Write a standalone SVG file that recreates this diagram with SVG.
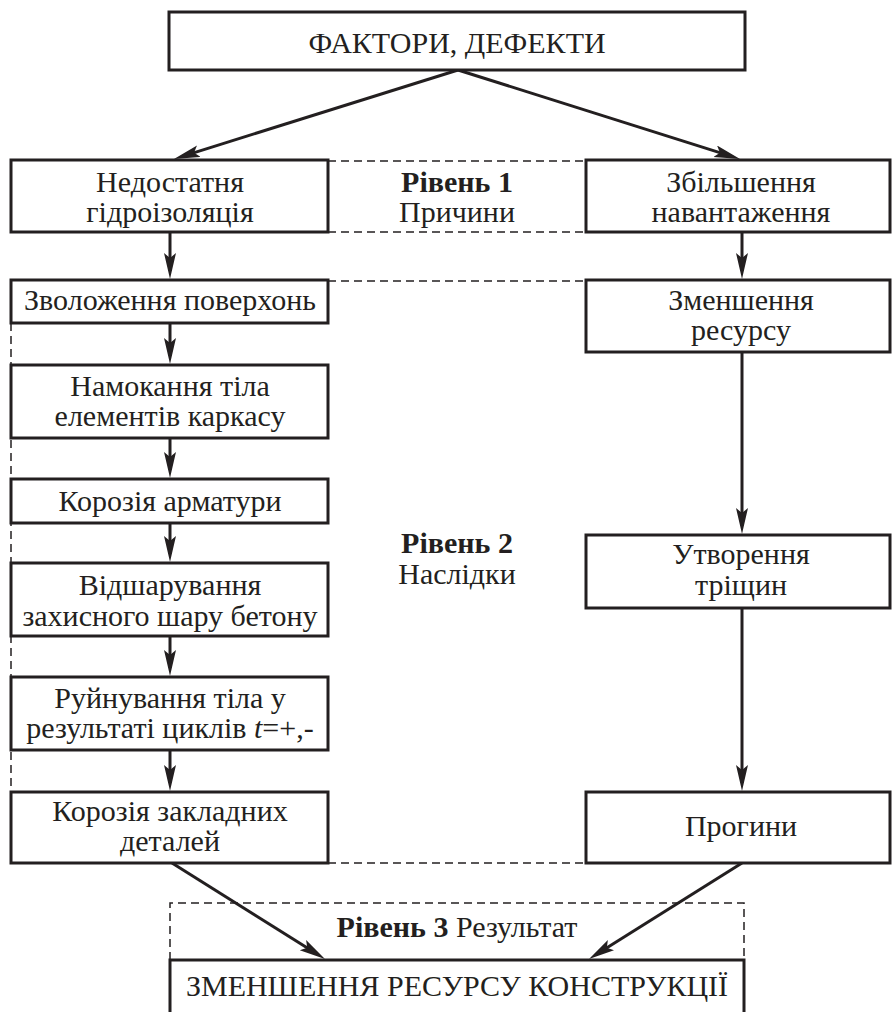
<svg xmlns="http://www.w3.org/2000/svg" width="892" height="1012" viewBox="0 0 892 1012">
<style>
.box{fill:#fff;stroke:#231f20;stroke-width:3}
.con{stroke:#231f20;stroke-width:3;fill:none}
.dash{stroke:#231f20;stroke-width:1.5;fill:none;stroke-dasharray:8 5}
</style>
<defs>
<marker id="ah" markerUnits="userSpaceOnUse" markerWidth="28" markerHeight="14" refX="18" refY="6" orient="auto">
<path d="M0,0 L26,6 L0,12 L5,6 Z" fill="#231f20"/>
</marker>
</defs>
<rect width="892" height="1012" fill="#fff"/>
<g id="frames">
<line class="dash" x1="328" y1="161" x2="586" y2="161"/>
<line class="dash" x1="328" y1="232" x2="586" y2="232"/>
<line class="dash" x1="328" y1="281" x2="586" y2="281"/>
<line class="dash" x1="328" y1="863" x2="586" y2="863"/>
<line class="dash" x1="11" y1="323" x2="11" y2="792"/>
<path class="dash" d="M170,960 V903 H744 V960"/>
</g>
<g id="connectors">
<line class="con" x1="458" y1="70" x2="181.6" y2="156.6" marker-end="url(#ah)"/>
<line class="con" x1="458" y1="70" x2="732.4" y2="156.6" marker-end="url(#ah)"/>
<line class="con" x1="170" y1="232" x2="170" y2="271" marker-end="url(#ah)"/>
<line class="con" x1="170" y1="323" x2="170" y2="356" marker-end="url(#ah)"/>
<line class="con" x1="170" y1="438" x2="170" y2="470" marker-end="url(#ah)"/>
<line class="con" x1="170" y1="523" x2="170" y2="554" marker-end="url(#ah)"/>
<line class="con" x1="170" y1="636" x2="170" y2="668" marker-end="url(#ah)"/>
<line class="con" x1="170" y1="750" x2="170" y2="783" marker-end="url(#ah)"/>
<line class="con" x1="742" y1="232" x2="742" y2="271" marker-end="url(#ah)"/>
<line class="con" x1="742" y1="352" x2="742" y2="526" marker-end="url(#ah)"/>
<line class="con" x1="742" y1="608" x2="742" y2="783" marker-end="url(#ah)"/>
<line class="con" x1="172" y1="863" x2="318.2" y2="954.7" marker-end="url(#ah)"/>
<line class="con" x1="742" y1="863" x2="595.8" y2="954.7" marker-end="url(#ah)"/>
</g>
<g id="n-top"><rect class="box" x="169" y="12" width="576" height="58"/><text font-family="serif" font-size="30" fill="#231f20" text-anchor="middle" x="457" y="53">ФАКТОРИ, ДЕФЕКТИ</text></g>
<g id="n-l1"><rect class="box" x="11" y="160" width="317" height="72"/><text font-family="serif" font-size="30" fill="#231f20" text-anchor="middle" x="170" y="192">Недостатня</text><text font-family="serif" font-size="30" fill="#231f20" text-anchor="middle" x="170" y="222">гідроізоляція</text></g>
<g id="n-l2"><rect class="box" x="11" y="280" width="317" height="43"/><text font-family="serif" font-size="30" fill="#231f20" text-anchor="middle" x="170" y="310">Зволоження поверхонь</text></g>
<g id="n-l3"><rect class="box" x="11" y="365" width="317" height="73"/><text font-family="serif" font-size="30" fill="#231f20" text-anchor="middle" x="170" y="396">Намокання тіла</text><text font-family="serif" font-size="30" fill="#231f20" text-anchor="middle" x="170" y="426">елементів каркасу</text></g>
<g id="n-l4"><rect class="box" x="11" y="479" width="317" height="44"/><text font-family="serif" font-size="30" fill="#231f20" text-anchor="middle" x="170" y="511">Корозія арматури</text></g>
<g id="n-l5"><rect class="box" x="11" y="563" width="317" height="73"/><text font-family="serif" font-size="30" fill="#231f20" text-anchor="middle" x="170" y="595">Відшарування</text><text font-family="serif" font-size="30" fill="#231f20" text-anchor="middle" x="170" y="626">захисного шару бетону</text></g>
<g id="n-l6"><rect class="box" x="11" y="677" width="317" height="73"/><text font-family="serif" font-size="30" fill="#231f20" text-anchor="middle" x="170" y="708">Руйнування тіла у</text><text font-family="serif" font-size="30" fill="#231f20" text-anchor="middle" x="170" y="738">результаті циклів <tspan font-style="italic">t</tspan>=+,-</text></g>
<g id="n-l7"><rect class="box" x="11" y="792" width="317" height="71"/><text font-family="serif" font-size="30" fill="#231f20" text-anchor="middle" x="170" y="821">Корозія закладних</text><text font-family="serif" font-size="30" fill="#231f20" text-anchor="middle" x="170" y="851">деталей</text></g>
<g id="n-r1"><rect class="box" x="586" y="160" width="304" height="72"/><text font-family="serif" font-size="30" fill="#231f20" text-anchor="middle" x="741" y="192">Збільшення</text><text font-family="serif" font-size="30" fill="#231f20" text-anchor="middle" x="741" y="222">навантаження</text></g>
<g id="n-r2"><rect class="box" x="586" y="280" width="304" height="72"/><text font-family="serif" font-size="30" fill="#231f20" text-anchor="middle" x="741" y="310">Зменшення</text><text font-family="serif" font-size="30" fill="#231f20" text-anchor="middle" x="741" y="340">ресурсу</text></g>
<g id="n-r3"><rect class="box" x="586" y="535" width="304" height="73"/><text font-family="serif" font-size="30" fill="#231f20" text-anchor="middle" x="741" y="564">Утворення</text><text font-family="serif" font-size="30" fill="#231f20" text-anchor="middle" x="741" y="595">тріщин</text></g>
<g id="n-r4"><rect class="box" x="586" y="792" width="304" height="71"/><text font-family="serif" font-size="30" fill="#231f20" text-anchor="middle" x="741" y="836">Прогини</text></g>
<g id="n-result"><rect class="box" x="170" y="960" width="574" height="80"/><text font-family="serif" font-size="30" fill="#231f20" text-anchor="middle" x="457" y="996">ЗМЕНШЕННЯ РЕСУРСУ КОНСТРУКЦІЇ</text></g>
<g id="labels">
<text font-family="serif" font-size="30" fill="#231f20" text-anchor="middle" font-weight="bold" x="457" y="192">Рівень 1</text>
<text font-family="serif" font-size="30" fill="#231f20" text-anchor="middle" x="457" y="222">Причини</text>
<text font-family="serif" font-size="30" fill="#231f20" text-anchor="middle" font-weight="bold" x="457" y="553">Рівень 2</text>
<text font-family="serif" font-size="30" fill="#231f20" text-anchor="middle" x="457" y="584">Наслідки</text>
<text font-family="serif" font-size="30" fill="#231f20" text-anchor="middle" x="457" y="937"><tspan font-weight="bold">Рівень 3</tspan> Результат</text>
</g>
</svg>
